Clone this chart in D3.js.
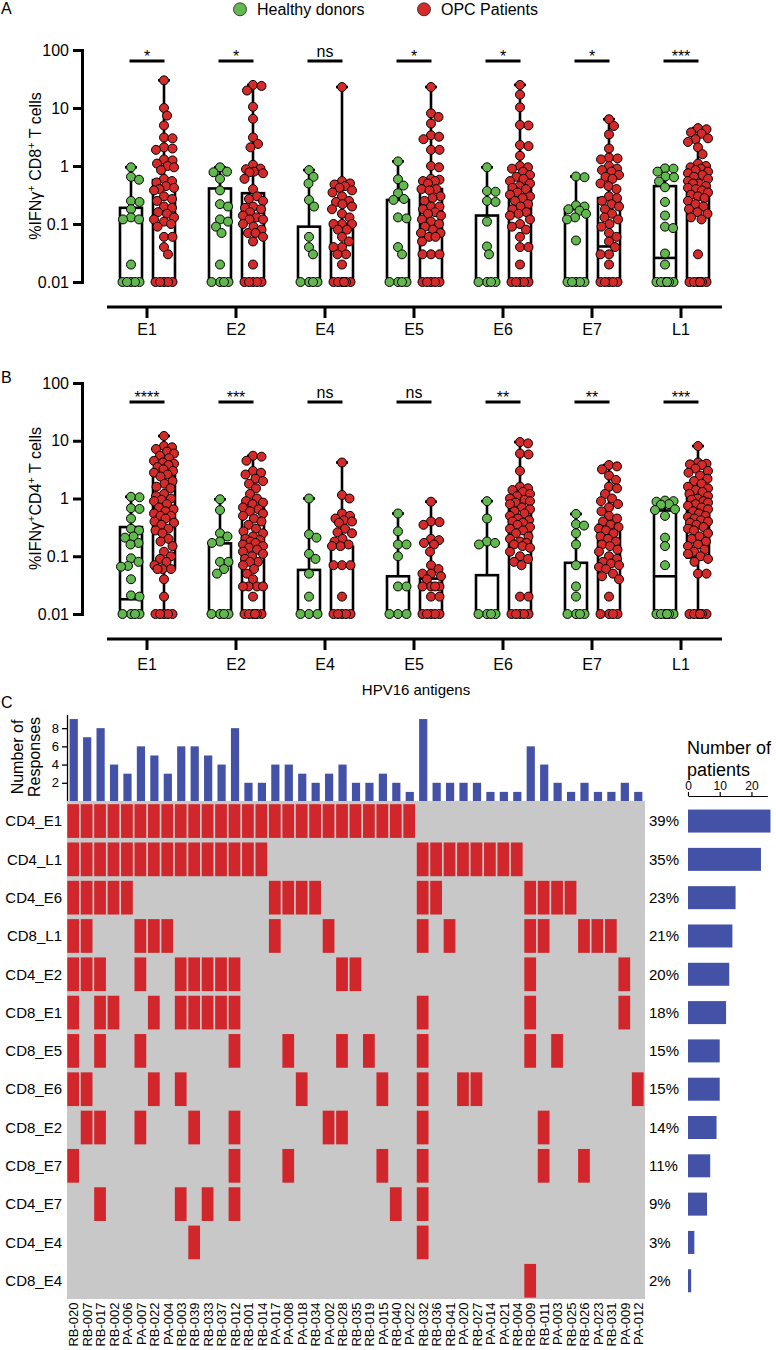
<!DOCTYPE html>
<html><head><meta charset="utf-8">
<script src="https://cdn.jsdelivr.net/npm/d3@7"></script>
<style>body{margin:0;background:#fff}svg{display:block}</style>
</head><body><svg id="c" width="776" height="1350"></svg>
<script>
// ---------------- DATA ----------------
const antigens = ["E1","E2","E4","E5","E6","E7","L1"];
const yTicks = [0.01, 0.1, 1, 10, 100];
const yTickLabels = ["0.01","0.1","1","10","100"];
const sigA = ["*","*","ns","*","*","*","***"];
const sigB = ["****","***","ns","ns","**","**","***"];

// Panel A: %IFNγ+ CD8+ T cells
const cd8Healthy = [
  [0.95,0.65,0.58,0.25,0.24,0.18,0.13,0.12,0.12,0.02,0.01,0.01,0.01,0.01,0.01],
  [0.95,0.8,0.78,0.6,0.38,0.22,0.2,0.12,0.11,0.09,0.07,0.02,0.01,0.01,0.01,0.01],
  [0.85,0.65,0.5,0.26,0.2,0.06,0.04,0.03,0.01,0.01,0.01,0.01],
  [1.2,0.59,0.46,0.34,0.27,0.26,0.13,0.125,0.04,0.03,0.01,0.01,0.01,0.01],
  [0.95,0.37,0.36,0.25,0.24,0.11,0.041,0.03,0.01,0.01,0.01,0.01],
  [0.66,0.64,0.21,0.2,0.18,0.17,0.15,0.13,0.12,0.052,0.01,0.01,0.01,0.01,0.01],
  [0.91,0.9,0.8,0.66,0.64,0.54,0.43,0.24,0.14,0.09,0.085,0.031,0.02,0.01,0.01,0.01,0.01,0.01,0.01]
];
const cd8Patients = [
  [30,10,7.4,5,3.1,3.0,2.1,2.0,1.9,1.3,1.25,1.1,1.0,0.95,0.85,0.6,0.55,0.52,0.45,0.42,0.4,0.38,0.3,0.27,0.25,0.2,0.19,0.16,0.15,0.13,0.12,0.11,0.1,0.09,0.06,0.06,0.04,0.03,0.01,0.01,0.01,0.01,0.01],
  [25,24,20,10.5,6.5,3.1,2.4,2.1,1.05,0.9,0.88,0.8,0.78,0.75,0.6,0.4,0.3,0.27,0.25,0.2,0.19,0.18,0.16,0.14,0.13,0.12,0.12,0.1,0.09,0.08,0.07,0.07,0.06,0.05,0.02,0.01,0.01,0.01,0.01,0.01],
  [23,0.55,0.5,0.48,0.45,0.42,0.38,0.35,0.3,0.25,0.24,0.22,0.2,0.18,0.15,0.13,0.1,0.1,0.1,0.08,0.08,0.06,0.05,0.04,0.04,0.03,0.03,0.02,0.01,0.01,0.01,0.01,0.01,0.01],
  [23,8.1,7,5.4,3.4,3.2,2.9,1.9,1.9,1.0,0.95,0.6,0.58,0.55,0.55,0.5,0.4,0.4,0.38,0.3,0.28,0.25,0.2,0.2,0.18,0.16,0.15,0.14,0.12,0.11,0.1,0.09,0.08,0.07,0.07,0.06,0.06,0.05,0.03,0.03,0.03,0.01,0.01,0.01,0.01,0.01],
  [25,17,10.3,5.1,5.0,2.3,2.2,1.5,1.0,0.95,0.9,0.8,0.7,0.65,0.6,0.55,0.5,0.45,0.42,0.4,0.35,0.32,0.3,0.28,0.25,0.22,0.2,0.18,0.16,0.15,0.14,0.12,0.1,0.09,0.08,0.06,0.04,0.04,0.02,0.01,0.01,0.01,0.01,0.01],
  [6.4,4.9,3.5,2.0,1.4,1.35,1.3,1.0,0.9,0.85,0.8,0.7,0.65,0.6,0.5,0.45,0.4,0.3,0.28,0.25,0.22,0.2,0.18,0.15,0.13,0.12,0.1,0.09,0.07,0.06,0.05,0.04,0.03,0.03,0.02,0.01,0.01,0.01,0.01,0.01],
  [4.5,4.3,3.8,3.6,3.0,2.9,2.6,2.1,1.6,1.1,1.0,0.95,0.9,0.85,0.8,0.75,0.7,0.65,0.6,0.55,0.5,0.5,0.45,0.42,0.4,0.38,0.35,0.32,0.3,0.28,0.25,0.22,0.2,0.18,0.16,0.15,0.13,0.12,0.03,0.01,0.01,0.01,0.01,0.01,0.01]
];
// box stats [q1, median, q3]
const cd8HealthyBox = [[0.01,0.01,0.19],[0.01,0.01,0.41],[0.01,0.01,0.09],[0.01,0.01,0.26],[0.01,0.01,0.14],[0.01,0.01,0.18],[0.01,0.026,0.45]];
const cd8PatientsBox = [[0.01,0.01,0.57],[0.01,0.01,0.34],[0.01,0.01,0.1],[0.01,0.01,0.4],[0.01,0.155,0.47],[0.01,0.041,0.28],[0.01,0.01,0.85]];

// Panel B: %IFNγ+CD4+ T cells
const cd4Healthy = [
  [1.07,1.05,0.68,0.66,0.45,0.3,0.28,0.22,0.21,0.17,0.16,0.092,0.08,0.068,0.066,0.04,0.021,0.02,0.01,0.01,0.01,0.01],
  [0.97,0.63,0.25,0.22,0.18,0.17,0.08,0.08,0.06,0.05,0.01,0.01,0.01,0.01],
  [1.0,0.24,0.21,0.11,0.09,0.05,0.02,0.01,0.01,0.01],
  [0.55,0.27,0.16,0.16,0.1,0.03,0.03,0.01,0.01,0.01],
  [0.9,0.45,0.18,0.17,0.16,0.01,0.01,0.01,0.01],
  [0.54,0.36,0.34,0.25,0.16,0.07,0.03,0.02,0.01,0.01,0.01,0.01],
  [0.92,0.9,0.88,0.8,0.78,0.65,0.63,0.5,0.21,0.15,0.07,0.01,0.01,0.01,0.01,0.01,0.01]
];
const cd4Patients = [
  [12.1,8.1,7.7,7.2,6.5,6.0,5.5,5.0,4.5,4.2,4.0,3.8,3.5,3.2,3.0,2.8,2.6,2.4,2.0,1.8,1.6,1.5,1.2,1.1,1.0,0.95,0.9,0.8,0.7,0.65,0.6,0.55,0.5,0.5,0.45,0.4,0.38,0.35,0.3,0.28,0.25,0.2,0.18,0.15,0.12,0.1,0.09,0.08,0.07,0.06,0.06,0.06,0.04,0.02,0.01,0.01,0.01,0.01,0.01],
  [5.5,5.3,4.5,3.0,2.8,2.6,2.2,2.0,1.8,1.5,1.2,1.0,0.9,0.85,0.8,0.7,0.65,0.6,0.55,0.5,0.45,0.4,0.35,0.3,0.27,0.25,0.22,0.2,0.19,0.18,0.17,0.16,0.15,0.14,0.13,0.12,0.11,0.1,0.09,0.08,0.08,0.07,0.06,0.05,0.04,0.03,0.03,0.03,0.03,0.02,0.01,0.01,0.01,0.01,0.01,0.01],
  [4.2,1.15,1.0,0.55,0.5,0.45,0.42,0.4,0.38,0.3,0.26,0.25,0.2,0.18,0.16,0.15,0.15,0.07,0.07,0.07,0.02,0.01,0.01,0.01,0.01,0.01],
  [0.88,0.4,0.39,0.35,0.2,0.19,0.17,0.16,0.12,0.07,0.06,0.05,0.05,0.045,0.04,0.03,0.03,0.03,0.03,0.02,0.02,0.01,0.01,0.01,0.01,0.01],
  [9.5,9.0,6.0,5.8,3.0,1.6,1.5,1.4,1.3,1.2,1.1,1.0,0.95,0.9,0.85,0.8,0.7,0.65,0.6,0.55,0.5,0.45,0.42,0.4,0.38,0.35,0.32,0.3,0.28,0.25,0.22,0.2,0.18,0.17,0.16,0.15,0.14,0.12,0.1,0.09,0.08,0.07,0.02,0.02,0.01,0.01,0.01,0.01,0.01],
  [3.8,3.6,3.2,2.5,2.1,1.6,1.5,1.2,1.0,0.9,0.8,0.7,0.6,0.5,0.45,0.4,0.35,0.32,0.3,0.28,0.25,0.22,0.2,0.18,0.16,0.15,0.13,0.12,0.1,0.09,0.08,0.075,0.07,0.065,0.06,0.05,0.045,0.04,0.02,0.01,0.01,0.01,0.01],
  [8.1,4.2,4.0,3.9,3.8,3.3,3.0,2.8,2.5,2.2,2.0,1.8,1.6,1.5,1.4,1.3,1.2,1.1,1.0,0.95,0.9,0.85,0.8,0.75,0.7,0.65,0.6,0.55,0.5,0.48,0.45,0.42,0.4,0.38,0.35,0.32,0.3,0.28,0.25,0.22,0.2,0.18,0.16,0.15,0.13,0.12,0.11,0.1,0.09,0.08,0.05,0.05,0.01,0.01,0.01,0.01,0.01,0.01]
];
const cd4HealthyBox = [[0.01,0.018,0.32],[0.01,0.01,0.167],[0.01,0.01,0.058],[0.01,0.01,0.045],[0.01,0.01,0.047],[0.01,0.01,0.077],[0.01,0.045,0.62]];
const cd4PatientsBox = [[0.062,0.52,2.7],[0.01,0.01,0.67],[0.01,0.01,0.146],[0.01,0.01,0.041],[0.01,0.01,0.95],[0.01,0.07,0.35],[0.095,0.45,1.5]];

// Panel C
const patients = ["RB-020","RB-007","RB-017","RB-002","PA-006","PA-007","RB-022","PA-004","RB-003","RB-039","RB-033","RB-037","RB-012","RB-001","RB-014","PA-017","PA-008","PA-018","RB-034","PA-002","RB-028","RB-035","RB-019","PA-015","RB-040","PA-022","RB-032","RB-036","RB-041","PA-020","RB-027","PA-014","PA-021","RB-004","RB-009","RB-011","PA-003","RB-025","RB-026","PA-023","RB-031","PA-009","PA-012"];
const responsesPerPatient = [9,7,8,4,3,6,5,3,6,6,5,4,8,2,2,4,4,3,2,3,4,2,2,3,2,1,9,2,2,2,2,1,1,1,6,4,2,1,2,1,1,2,1];
const specificities = ["CD4_E1","CD4_L1","CD4_E6","CD8_L1","CD4_E2","CD8_E1","CD8_E5","CD8_E6","CD8_E2","CD8_E7","CD4_E7","CD4_E4","CD8_E4"];
const percentLabels = ["39%","35%","23%","21%","20%","18%","15%","15%","14%","11%","9%","3%","2%"];
const patientCounts = [26,23,15,14,13,12,10,10,9,7,6,2,1];
// column indices (into patients) with a response, per specificity row
const responders = [
  [0,1,2,3,4,5,6,7,8,9,10,11,12,13,14,15,16,17,18,19,20,21,22,23,24,25],
  [0,1,2,3,4,5,6,7,8,9,10,11,12,13,14,26,27,28,29,30,31,32,33],
  [0,1,2,3,4,15,16,17,18,26,27,34,35,36,37],
  [0,1,5,6,7,15,19,26,28,34,35,38,39,40],
  [0,1,2,5,8,9,10,11,12,20,21,34,41],
  [0,2,3,6,8,9,10,11,12,26,34,41],
  [0,2,5,12,16,20,22,26,34,36],
  [0,1,6,8,17,23,26,29,30,42],
  [1,2,5,9,12,19,20,26,35],
  [0,12,16,23,26,35,38],
  [2,8,10,12,24,26],
  [9,26],
  [34]
];

// ---------------- DRAWING ----------------
const FONT = "'Liberation Sans', Arial, Helvetica, sans-serif";
const GREEN = "#63B74F", RED = "#D42A2A", BLUE = "#4352A6", GREY = "#C8C8C8", HRED = "#D1262B";
const svg = d3.select("#c").attr("font-family", FONT);

// legend + panel letters
svg.append("text").attr("x",1).attr("y",13.5).attr("font-size",16).text("A");
svg.append("text").attr("x",1).attr("y",383).attr("font-size",16).text("B");
svg.append("text").attr("x",1).attr("y",708).attr("font-size",16).text("C");
const legend = [["Healthy donors", GREEN, 240], ["OPC Patients", RED, 424]];
legend.forEach(([lab,col,lx]) => {
  svg.append("circle").attr("cx",lx).attr("cy",9.3).attr("r",6.5).attr("fill",col).attr("stroke","#222").attr("stroke-width",0.8);
  svg.append("text").attr("x",lx+17).attr("y",14.5).attr("font-size",16).text(lab);
});

function swarm(vals, cx, y, r, maxOff) {
  const pts = vals.map(v => ({v, y: y(v)})).sort((a,b) => a.y - b.y);
  const placed = [];
  const minD = 2*r*0.9;
  const cands = [0];
  for (let o = 0.5; o <= maxOff + 1e-9; o += 0.5) cands.push(o, -o);
  for (const p of pts) {
    let chosen = null;
    for (const o of cands) {
      let ok = true;
      for (const q of placed) {
        const dx = o - q.o, dy = p.y - q.y;
        if (dx*dx + dy*dy < minD*minD) { ok = false; break; }
      }
      if (ok) { chosen = o; break; }
    }
    if (chosen === null) {
      let best = 0, bestS = -1;
      for (const o of cands) {
        let m = Infinity;
        for (const q of placed) { const dx = o - q.o, dy = p.y - q.y; m = Math.min(m, dx*dx + dy*dy); }
        if (m > bestS + 1e-6) { bestS = m; best = o; }
      }
      chosen = best;
    }
    p.o = chosen; placed.push(p);
  }
  return pts.map(p => ({x: cx + p.o, y: p.y}));
}

function drawPanel(cfg) {
  const y = d3.scaleLog().domain([0.01, 100]).range([cfg.y001, cfg.y100]);
  const x = d3.scalePoint().domain(antigens).range([147, 681]);
  const g = svg.append("g");

  // y axis
  const ya = g.append("g").attr("transform","translate(82,0)")
    .call(d3.axisLeft(y).tickValues(yTicks).tickFormat((d,i) => yTickLabels[i]).tickSize(9).tickSizeOuter(0).tickPadding(4));
  ya.attr("font-family", FONT);
  ya.select(".domain").attr("stroke","#000").attr("stroke-width",3).attr("stroke-linecap","square");
  ya.selectAll(".tick line").attr("stroke","#000").attr("stroke-width",3);
  ya.selectAll(".tick text").attr("font-size",16).attr("fill","#000");

  // y label
  const cy = (cfg.y001 + cfg.y100) / 2;
  const yl = g.append("text").attr("transform",`translate(41,${cy}) rotate(-90)`).attr("text-anchor","middle").attr("font-size",16);
  cfg.label.forEach(([t, sup]) => {
    yl.append("tspan").attr("font-size", sup === 1 ? 11 : 16).attr("dy", sup === 1 ? -6 : (sup === -1 ? 6 : 0)).text(t);
  });

  // x axis
  g.append("line").attr("x1",107).attr("x2",722).attr("y1",cfg.xAxisY).attr("y2",cfg.xAxisY).attr("stroke","#000").attr("stroke-width",3);
  antigens.forEach(a => {
    g.append("line").attr("x1",x(a)).attr("x2",x(a)).attr("y1",cfg.xAxisY).attr("y2",cfg.xAxisY+11).attr("stroke","#000").attr("stroke-width",3);
    g.append("text").attr("x",x(a)).attr("y",cfg.labelY).attr("text-anchor","middle").attr("font-size",16).text(a);
  });

  // significance
  antigens.forEach((a,i) => {
    g.append("line").attr("x1",x(a)-17.5).attr("x2",x(a)+17.5).attr("y1",cfg.sigY).attr("y2",cfg.sigY).attr("stroke","#000").attr("stroke-width",3);
    const s = cfg.sig[i];
    g.append("text").attr("x",x(a)).attr("y", s === "ns" ? cfg.sigY-4 : cfg.sigY+1).attr("text-anchor","middle").attr("font-size",16).text(s);
  });

  // boxes + points
  const groups = [
    {data: cfg.healthy, box: cfg.healthyBox, off: -16, col: GREEN},
    {data: cfg.patients, box: cfg.patientsBox, off: 17, col: RED}
  ];
  groups.forEach(gr => {
    antigens.forEach((a,i) => {
      const cx = x(a) + gr.off;
      const vals = gr.data[i];
      const [q1, med, q3] = gr.box[i];
      const mx = d3.max(vals), mn = d3.min(vals);
      const bw = 11;
      const bg = g.append("g").attr("stroke","#000").attr("stroke-width",2.6).attr("fill","none");
      bg.append("line").attr("x1",cx).attr("x2",cx).attr("y1",y(q3)).attr("y2",y(mx));
      bg.append("line").attr("x1",cx-6).attr("x2",cx+6).attr("y1",y(mx)).attr("y2",y(mx));
      if (mn < q1) {
        bg.append("line").attr("x1",cx).attr("x2",cx).attr("y1",y(q1)).attr("y2",y(mn));
      }
      bg.append("rect").attr("x",cx-bw).attr("y",y(q3)).attr("width",2*bw).attr("height",y(q1)-y(q3)).attr("fill","#fff");
      bg.append("line").attr("x1",cx-bw).attr("x2",cx+bw).attr("y1",y(med)).attr("y2",y(med));
      const pts = swarm(vals, cx, y, 4.5, 10);
      g.append("g").selectAll("circle").data(pts).join("circle")
        .attr("cx", d => d.x).attr("cy", d => d.y).attr("r", 4.5)
        .attr("fill", gr.col).attr("stroke","#000").attr("stroke-width",1);
    });
  });
}

drawPanel({y001: 282, y100: 50, xAxisY: 307, labelY: 335, sigY: 61, sig: sigA,
  healthy: cd8Healthy, patients: cd8Patients, healthyBox: cd8HealthyBox, patientsBox: cd8PatientsBox,
  label: [["%IFNγ",0],["+",1],[" CD8",-1],["+",1],[" T cells",-1]]});
drawPanel({y001: 614, y100: 383, xAxisY: 639, labelY: 670, sigY: 402, sig: sigB,
  healthy: cd4Healthy, patients: cd4Patients, healthyBox: cd4HealthyBox, patientsBox: cd4PatientsBox,
  label: [["%IFNγ",0],["+",1],["CD4",-1],["+",1],[" T cells",-1]]});

svg.append("text").attr("x",416).attr("y",695).attr("text-anchor","middle").attr("font-size",15).text("HPV16 antigens");

// ---------- Panel C ----------
const hx = d3.scaleBand().domain(patients).range([67, 645]);
const hy = d3.scaleBand().domain(specificities).range([801, 1299]);
const bwid = hx.bandwidth(), bh = hy.bandwidth();

// top bar chart
const ty = d3.scaleLinear().domain([0, 9.5]).range([801, 714.5]);
svg.append("g").selectAll("rect").data(patients).join("rect")
  .attr("x", d => hx(d) + bwid/2 - 4.1).attr("width", 8.2)
  .attr("y", (d,i) => ty(responsesPerPatient[i])).attr("height", (d,i) => ty(0) - ty(responsesPerPatient[i]))
  .attr("fill", BLUE);
const tya = svg.append("g").attr("transform","translate(67,0)")
  .call(d3.axisLeft(ty).tickValues([2,4,6,8]).tickSize(5).tickSizeOuter(0).tickPadding(3));
tya.attr("font-family", FONT);
tya.select(".domain").attr("stroke","#000").attr("stroke-width",1.3);
tya.selectAll(".tick line").attr("stroke","#000").attr("stroke-width",1.3);
tya.selectAll(".tick text").attr("font-size",13).attr("fill","#000");
const nr = svg.append("g").attr("font-size",16).attr("text-anchor","middle");
nr.append("text").attr("transform","translate(23,757) rotate(-90)").text("Number of");
nr.append("text").attr("transform","translate(40,757) rotate(-90)").text("Responses");

// heatmap
svg.append("rect").attr("x",67).attr("y",801).attr("width",578).attr("height",498).attr("fill",GREY);
specificities.forEach((s,i) => {
  svg.append("g").selectAll("rect").data(responders[i]).join("rect")
    .attr("x", c => hx(patients[c]) + 0.3).attr("width", bwid - 1.7)
    .attr("y", hy(s) + 3.2).attr("height", bh - 4.6)
    .attr("fill", HRED);
});
// row labels
const rowC = s => hy(s) + 3.2 + (bh - 4.6)/2;
svg.append("g").selectAll("text").data(specificities).join("text")
  .attr("x", 62).attr("y", s => rowC(s)).attr("dy","0.35em").attr("text-anchor","end").attr("font-size",15).text(s => s);
// patient labels
svg.append("g").selectAll("text").data(patients).join("text")
  .attr("transform", d => `translate(${hx(d) + bwid/2 + 4.7},1302.5) rotate(-90)`)
  .attr("text-anchor","end").attr("font-size",13).text(d => d);
// percent labels
svg.append("g").selectAll("text").data(specificities).join("text")
  .attr("x", 649).attr("y", s => rowC(s)).attr("dy","0.35em").attr("font-size",15).text((s,i) => percentLabels[i]);

// right bar chart
const rx = d3.scaleLinear().domain([0, 25]).range([688, 767.3]);
svg.append("g").selectAll("rect").data(specificities).join("rect")
  .attr("x", rx(0)).attr("y", s => rowC(s) - 11.5).attr("height", 23)
  .attr("width", (s,i) => rx(patientCounts[i]) - rx(0)).attr("fill", BLUE);
const rxa = svg.append("g").attr("transform","translate(0,796)")
  .call(d3.axisTop(rx).tickValues([0,10,20]).tickSize(4).tickSizeOuter(0).tickPadding(2));
rxa.attr("font-family", FONT);
rxa.select(".domain").attr("stroke","#000").attr("stroke-width",1.2);
rxa.selectAll(".tick line").attr("stroke","#000").attr("stroke-width",1.2);
rxa.selectAll(".tick text").attr("font-size",12).attr("fill","#000");
svg.append("text").attr("x",687).attr("y",754).attr("font-size",18).text("Number of");
svg.append("text").attr("x",687).attr("y",776).attr("font-size",18).text("patients");
</script>
</body></html>
